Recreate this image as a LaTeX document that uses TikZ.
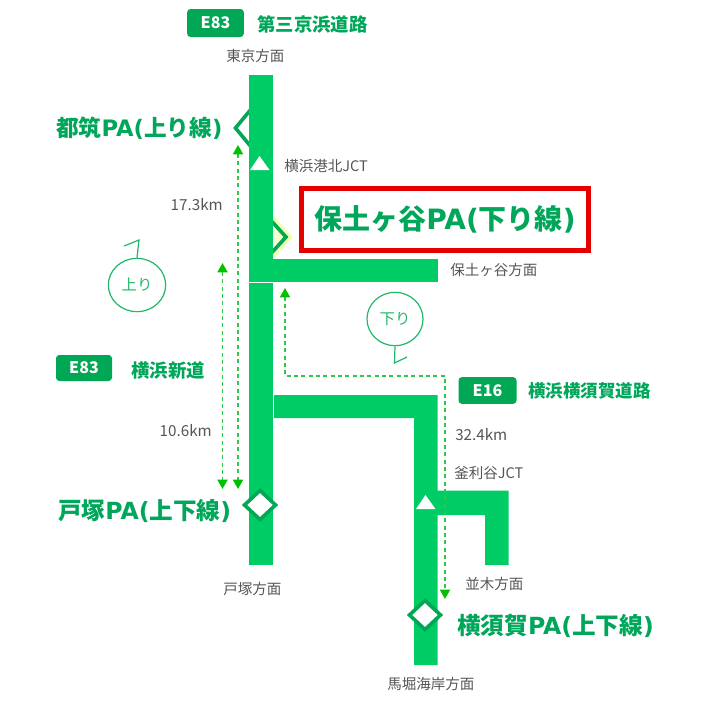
\documentclass[tikz,border=0pt]{standalone}
\usepackage{fontspec}
\setmainfont{Noto Sans CJK JP}
\newfontfamily\latinfont{DejaVu Sans}
\usetikzlibrary{arrows.meta,shapes.geometric}
\definecolor{roadgreen}{HTML}{00CC66}
\definecolor{markgreen}{HTML}{00A855}
\definecolor{titlegreen}{HTML}{00A65A}
\definecolor{dashgreen}{HTML}{2CC84A}
\definecolor{tipgreen}{HTML}{00C000}
\definecolor{textgray}{HTML}{555555}
\definecolor{ringgreen}{HTML}{1FB868}
\newcommand{\paopen}{{\latinfont PA(}}
\newcommand{\paclose}{{\latinfont )}}
\tikzset{
  road/.style={fill=roadgreen},
  badge/.style={fill=markgreen,rounded corners=2.5pt,text=white,font=\bfseries\fontsize{12}{12}\selectfont,inner sep=0pt},
  roadname/.style={anchor=west,inner sep=0pt,text=titlegreen,font=\bfseries\fontsize{13.8}{14}\selectfont},
  palabel/.style={anchor=west,inner sep=0pt,text=titlegreen,font=\bfseries\fontsize{17.7}{18}\selectfont},
  placetext/.style={anchor=west,inner sep=0pt,text=textgray,font=\fontsize{10.9}{12}\selectfont},
  kmtext/.style={inner sep=0pt,text=textgray,font=\fontsize{11.4}{12}\selectfont},
  ring/.style={draw=ringgreen,line width=0.9pt,ellipse,inner sep=0pt,text=ringgreen,font=\fontsize{11.5}{12}\selectfont},
  ringtick/.style={draw=ringgreen,line width=0.9pt},
  route/.style={draw=dashgreen,line width=1.3pt,dash pattern=on 3pt off 2.5pt,
    arrows={Triangle[length=7pt,width=7.5pt,color=tipgreen]-Triangle[length=7pt,width=7.5pt,color=tipgreen]}},
  junction/.style={fill=white},
  interchange/.style={draw=markgreen,line width=2.7pt,fill=white,miter limit=10}
}
\begin{document}
\begin{tikzpicture}[x=0.75pt,y=-0.75pt]
\useasboundingbox (0,0) rectangle (707,700);
% parking areas beside the road
\draw[interchange,fill=none] (252,108) -- (235.5,128) -- (252,148);
\draw[line width=7pt,draw=lime!30!white] (266,214) -- (286.5,237) -- (266,260);
\fill[left color=white,right color=lime!35!white] (266,218) -- (286,237) -- (266,256) -- cycle;
\draw[interchange,fill=none] (266,215) -- (286,237) -- (266,259);
% roads
\fill[road] (249,75) rectangle (272.5,281.5);
\fill[road] (272,259) rectangle (438,281.5);
\fill[road] (249,283) rectangle (272.5,565);
\fill[road] (274,395) -- (437.5,395) -- (437.5,490.5) -- (508.5,490.5) -- (508.5,565) -- (485,565)
  -- (485,515) -- (437.5,515) -- (437.5,665) -- (414,665) -- (414,418) -- (274,418) -- cycle;
% junctions
\fill[junction] (259.5,156) -- (269.5,170) -- (250,170) -- cycle;
\fill[junction] (425.5,495) -- (435.5,509) -- (416,509) -- cycle;
% parking areas on the road
\draw[interchange] (260,490.5) -- (275.5,505) -- (260,519.5) -- (244.5,505) -- cycle;
\draw[interchange] (425,600.5) -- (440.5,615) -- (425,629.5) -- (409.5,615) -- cycle;
% distances
\coordinate (tsuzukiEnd) at (238,145);
\coordinate (totsukaUp) at (238,489);
\coordinate (hodogayaEnd) at (222.5,263);
\coordinate (totsukaDown) at (222.5,489);
\coordinate (inboundEnd) at (285,288);
\coordinate (inboundA) at (285,376);
\coordinate (inboundB) at (445,376);
\coordinate (yokosukaEnd) at (445,599);
\draw[route] (tsuzukiEnd) -- (totsukaUp);
\draw[route] (hodogayaEnd) -- (totsukaDown);
\draw[route] (inboundEnd) -- (inboundA) -- (inboundB) -- (yokosukaEnd);
% road names
\node[badge,minimum width=42.5pt,minimum height=21pt] (badgeTop) at (215.5,23) {E83};
\node[roadname] (nameTop) at (257,24) {第三京浜道路};
\node[badge,minimum width=42pt,minimum height=19.5pt] (badgeMid) at (84,368) {E83};
\node[roadname] (nameMid) at (131,371) {横浜新道};
\node[badge,minimum width=43.5pt,minimum height=20pt] (badgeLow) at (487.5,390.5) {E16};
\node[roadname,font=\bfseries\fontsize{13.1}{14}\selectfont] (nameLow) at (528,391) {横浜横須賀道路};
% places
\node[placetext] (tokyo) at (226,56) {東京方面};
\node[placetext] (kohoku) at (284,166) {横浜港北JCT};
\node[placetext] (hodogaya) at (450,270) {保土ヶ谷方面};
\node[placetext] (kamariya) at (454,473) {釜利谷JCT};
\node[placetext] (namiki) at (465,584) {並木方面};
\node[placetext] (totsuka) at (223,589) {戸塚方面};
\node[placetext] (mabori) at (387,684) {馬堀海岸方面};
\node[kmtext,anchor=east] (kmA) at (223,205) {17.3km};
\node[kmtext,anchor=east] (kmB) at (212,431) {10.6km};
\node[kmtext,anchor=west] (kmC) at (455,435) {32.4km};
% parking area names
\node[palabel,font=\bfseries\fontsize{17}{18}\selectfont] (paTsuzuki) at (56,128) {都筑\paopen 上り線\paclose};
\node[palabel] (paTotsuka) at (58,511) {戸塚\paopen 上下線\paclose};
\node[palabel] (paYokosuka) at (457,626) {横須賀\paopen 上下線\paclose};
\node[draw=red!90!black,line width=3.75pt,fill=white,minimum width=215pt,minimum height=46.5pt,inner sep=0pt,
  text=titlegreen,font=\bfseries\fontsize{21}{22}\selectfont] (paHodogaya) at (445,219.5) {保土ヶ谷\paopen 下り線\paclose};
% directions
\node[ring,minimum width=43pt,minimum height=40pt] (up) at (137,285) {上り};
\coordinate (upA) at (139,240);
\coordinate (upB) at (124,246);
\draw[ringtick] (up.north) -- (upA) -- (upB);
\node[ring,minimum width=42pt,minimum height=40pt] (down) at (395,319) {下り};
\coordinate (downA) at (394.5,363);
\coordinate (downB) at (407,357);
\draw[ringtick] (down.south) -- (downA) -- (downB);
\end{tikzpicture}
\end{document}
